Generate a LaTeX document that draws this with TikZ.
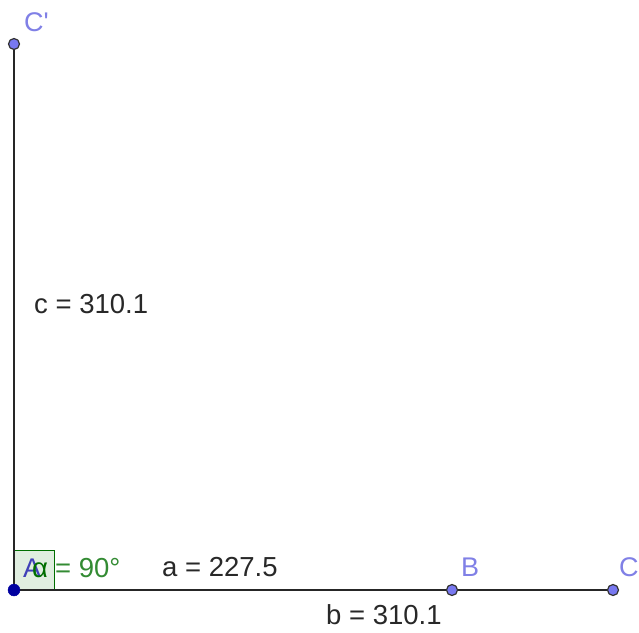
\documentclass[tikz,border=0pt]{standalone}
\usepackage{fontspec}
\setmainfont{Liberation Sans}[Ligatures=TeXOff]
\usetikzlibrary{positioning}

\definecolor{ptlabel}{RGB}{128,128,230}
\definecolor{ptfill}{RGB}{120,120,240}
\definecolor{ptdark}{RGB}{0,0,160}
\definecolor{anglegreen}{RGB}{0,110,0}
\definecolor{segtext}{RGB}{40,40,40}

\tikzset{
  segment/.style={line width=1.7pt, draw=black!85},
  freept/.style={circle, draw=black!80, fill=ptfill, line width=1.2pt, inner sep=0pt, minimum size=11pt},
  basept/.style={circle, draw=ptdark, fill=ptdark, inner sep=0pt, minimum size=12pt},
  ptname/.style={anchor=base west, inner sep=0pt, text=ptlabel, font=\fontsize{27}{32}\selectfont},
  seglabel/.style={anchor=base west, inner sep=0pt, text=segtext, font=\fontsize{27.5}{32}\selectfont},
  rightangle/.style={draw=anglegreen, fill=anglegreen!12, line width=1pt}
}

\begin{document}
\begin{tikzpicture}[x=1pt, y=-1pt]
  \useasboundingbox (0,0) rectangle (639,632);

  \coordinate (A) at (14,590);
  \coordinate (B) at (452,590);
  \coordinate (C) at (613,590);
  \coordinate (Cp) at (14,44);

  % right angle at A
  \draw[rightangle] (A) rectangle (54,550);

  \draw[segment] (A) -- (B);
  \draw[segment] (B) -- (C);
  \draw[segment] (A) -- (Cp);

  \node[basept] (pA) at (A) {};
  \node[freept] (pB) at (B) {};
  \node[freept] (pC) at (C) {};
  \node[freept] (pCp) at (Cp) {};

  \node[ptname] (lCp) at (24,31) {C'};
  \node[ptname] (lB) at (461,576) {B};
  \node[ptname] (lC) at (619,576) {C};
  \node[ptname, text=ptdark!75!white] (lA) at (23,577) {A};
  \node[seglabel, text=anglegreen] (lalpha) at (32,577) {α};
  \node[seglabel, text=anglegreen!80!white] (langle) at (55,577) {= 90°};

  \node[seglabel] (lc) at (34,313) {c = 310.1};
  \node[seglabel] (la) at (162,576) {a = 227.5};
  \node[seglabel] (lb) at (326,624) {b = 310.1};
\end{tikzpicture}
\end{document}
